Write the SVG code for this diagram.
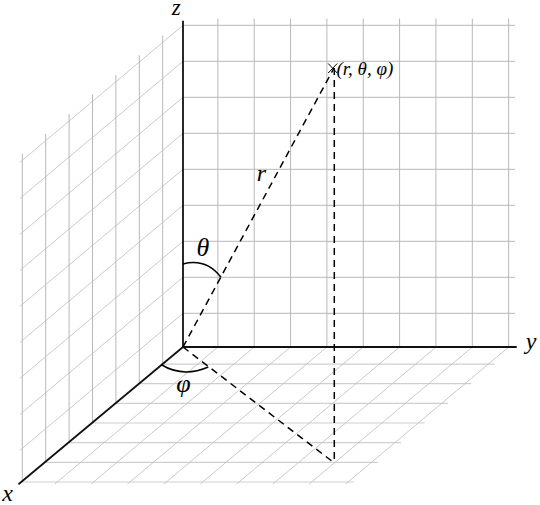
<svg xmlns="http://www.w3.org/2000/svg" width="540" height="505" viewBox="0 0 540 505">
<style>
.g1{stroke:#b8b8b8;stroke-width:1;fill:none}
.g2{stroke:#c4c4c4;stroke-width:0.9;fill:none}
.g3{stroke:#cfcfcf;stroke-width:1.2;fill:none}
.ax{stroke:#111;stroke-width:1.8;fill:none;stroke-linecap:butt}
.ds{stroke:#000;stroke-width:1.5;fill:none;stroke-dasharray:7 5}
.arc{stroke:#000;stroke-width:1.5;fill:none}
.lb{font-family:"Liberation Serif","Times New Roman",serif;font-style:italic;fill:#000}
</style>
<rect width="540" height="505" fill="#fff"/>
<g id="grid-back">
<path class="g1" d="M217.85,18.5V347M254.2,18.5V347M290.55,18.5V347M326.9,18.5V347M363.25,18.5V347M399.6,18.5V347M435.95,18.5V347M472.3,18.5V347M508.65,18.5V347"/>
<path class="g1" d="M183,313.3H515M183,277.3H515M183,241.3H515M183,205.3H515M183,169.3H515M183,133.3H515M183,97.3H515M183,61.3H515M183,25.3H515"/>
</g>
<g id="grid-left">
<path class="g2" d="M183,313.3l-163,137M183,277.3l-163,137M183,241.3l-163,137M183,205.3l-163,137M183,169.3l-163,137M183,133.3l-163,137M183,97.3l-163,137M183,61.3l-163,137M183,25.3l-163,137"/>
<path class="g1" d="M162.7,35.55V364.05M139.3,55.21V383.71M115.9,74.86V403.36M92.5,94.52V423.02M69.1,114.18V442.68M45.7,133.83V462.33M22.3,153.49V481.99"/>
</g>
<g id="grid-floor">
<path class="g3" d="M162.7,364.05h332M139.3,383.71h332M115.9,403.36h332M92.5,423.02h332M69.1,442.68h332M45.7,462.33h332M22.3,481.99h332"/>
<path class="g2" d="M217.85,347l-163,137M254.2,347l-163,137M290.55,347l-163,137M326.9,347l-163,137M363.25,347l-163,137M399.6,347l-163,137M435.95,347l-163,137M472.3,347l-163,137M508.65,347l-163,137"/>
</g>
<g id="connectors">
<path id="axis-z" class="ax" d="M183,347V20.7"/>
<path id="axis-y" class="ax" d="M183,347H516.7"/>
<path id="axis-x" class="ax" d="M183,347L18.5,484.3"/>
<path id="r-line" class="ds" d="M183,347L334,68"/>
<path id="proj-line" class="ds" d="M183,347L334.3,463"/>
<path id="vert-line" class="ds" d="M334.3,68V463"/>
<path id="theta-arc" class="arc" d="M183,264Q206,258 221,277.3"/>
<path id="phi-arc" class="arc" d="M161,364.5Q183,378 208.3,367"/>
</g>
<g id="point">
<path stroke="#000" stroke-width="1" fill="none" d="M328.2,63.5l9,9.5M328.2,73l9,-9.5"/>
<text class="lb" x="336.5" y="75" font-size="19">(r, θ, φ)</text>
</g>
<g id="labels">
<text class="lb" x="176.3" y="15" font-size="23" text-anchor="middle">z</text>
<text class="lb" x="531" y="349" font-size="24" text-anchor="middle">y</text>
<text class="lb" x="7.5" y="501" font-size="24" text-anchor="middle">x</text>
<text class="lb" x="261.5" y="181" font-size="24" text-anchor="middle">r</text>
<text class="lb" x="203" y="256" font-size="26" text-anchor="middle">θ</text>
<text class="lb" x="183.5" y="392" font-size="26" text-anchor="middle">φ</text>
</g>
</svg>
